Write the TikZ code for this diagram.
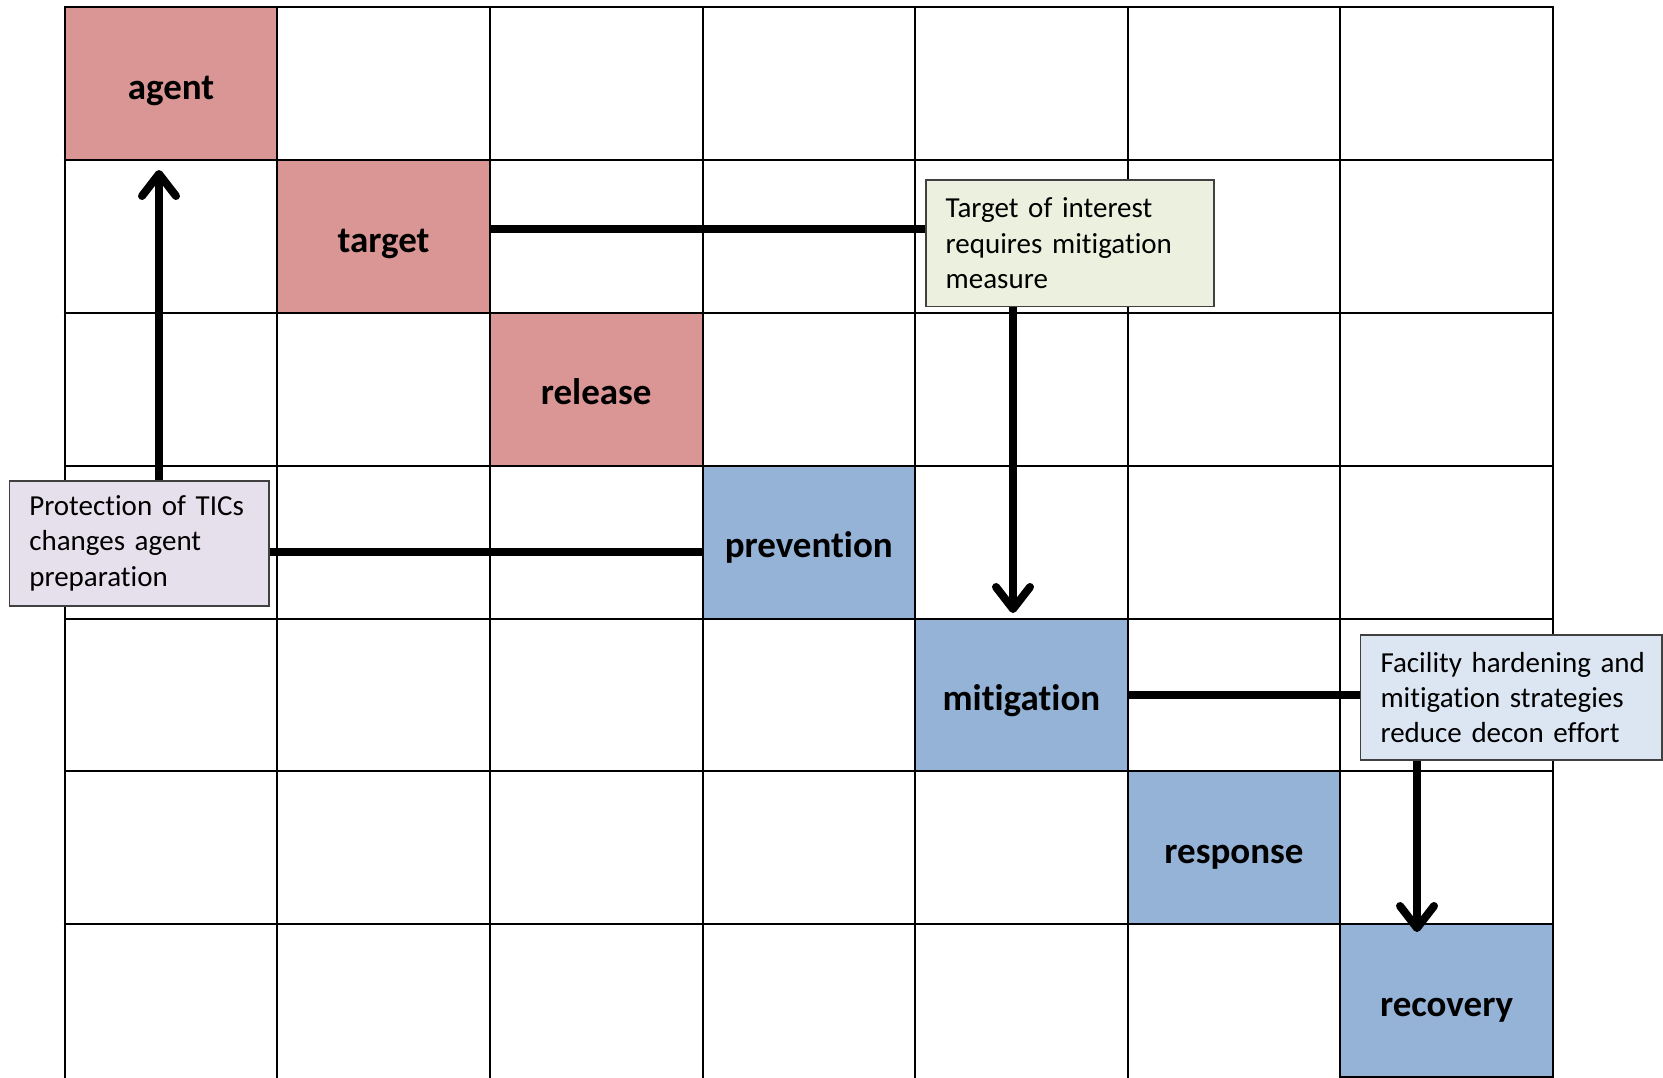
\documentclass[tikz,border=0pt]{standalone}
\usepackage{fontspec}
\setmainfont{Carlito}[Ligatures=NoCommon]
\usetikzlibrary{arrows.meta,calc}
\definecolor{pinkc}{HTML}{D99694}
\definecolor{bluec}{HTML}{95B3D7}
\definecolor{lavc}{HTML}{E6E0EC}
\definecolor{greenc}{HTML}{EBF1DE}
\definecolor{lbluec}{HTML}{DCE6F2}
\definecolor{bordc}{HTML}{404040}
\begin{document}
\begin{tikzpicture}[x=1pt,y=-1pt,
  cell/.style={draw=black,line width=2pt,minimum width=212.6pt,minimum height=152.8pt,inner sep=0pt,text height=31pt,text depth=0pt,font=\fontsize{37}{44}\selectfont\bfseries},
  callout/.style={draw=bordc,line width=1.6pt,inner xsep=20pt,inner ysep=0pt,align=left,anchor=north west,font=\fontsize{29}{35.4}\selectfont},
  conn/.style={line width=8pt},
  arr/.style={conn,-{Straight Barb[length=22pt,width=34pt,round]}}]
\path[use as bounding box,fill=white] (0,0) rectangle (1663,1077);
\clip (0,0) rectangle (1663,1077);
% coloured cells
\node[cell,fill=pinkc] (agent) at (171.0,83.8) {agent};
\node[cell,fill=pinkc] (target) at (383.6,236.6) {target};
\node[cell,fill=pinkc] (release) at (596.2,389.4) {release};
\node[cell,fill=bluec] (prevention) at (808.8,542.2) {prevention};
\node[cell,fill=bluec] (mitigation) at (1021.4,695.0) {mitigation};
\node[cell,fill=bluec] (response) at (1234.0,847.8) {response};
\node[cell,fill=bluec] (recovery) at (1446.6,1000.6) {recovery};
% grid
\foreach \gx in {64.7,277.3,489.9,702.5,915.1,1127.7,1340.3,1552.9}
  \draw[line width=2pt] (\gx,7.4) -- (\gx,1080);
\foreach \gy in {7.4,160.2,313.0,465.8,618.6,771.4,924.2}
  \draw[line width=2pt] (63.7,\gy) -- (1553.9,\gy);
% callouts
\node[callout,fill=lavc,text width=219.8pt,minimum width=259.8pt,minimum height=125.1pt] (box1) at (8.5,480)
  {\mbox{Protection of TICs}\\\mbox{changes agent}\\\mbox{preparation}};
\node[callout,fill=greenc,text width=248.4pt,minimum width=288.4pt,minimum height=126.3pt] (box2) at (924.9,179.2)
  {\mbox{Target of interest}\\\mbox{requires mitigation}\\\mbox{measure}};
\node[callout,fill=lbluec,text width=261.2pt,minimum width=301.2pt,minimum height=125.2pt] (box3) at (1359.7,634.2)
  {\mbox{Facility hardening and}\\\mbox{mitigation strategies}\\\mbox{reduce decon effort}};
% connectors
\coordinate (hT) at (0,229);
\draw[conn] (target.east |- hT) -- (box2.west |- hT);
\coordinate (vA) at (1013,613);
\draw[arr] (box2.south -| vA) -- (vA);
\coordinate (vB) at (159,170);
\draw[arr] (box1.north -| vB) -- (vB);
\coordinate (hP) at (0,551.5);
\draw[conn] (box1.east |- hP) -- (prevention.west |- hP);
\draw[conn] (mitigation.east) -- (box3.west |- mitigation.east);
\coordinate (vC) at (1417,932);
\draw[arr] (box3.south -| vC) -- (vC);
\end{tikzpicture}
\end{document}
